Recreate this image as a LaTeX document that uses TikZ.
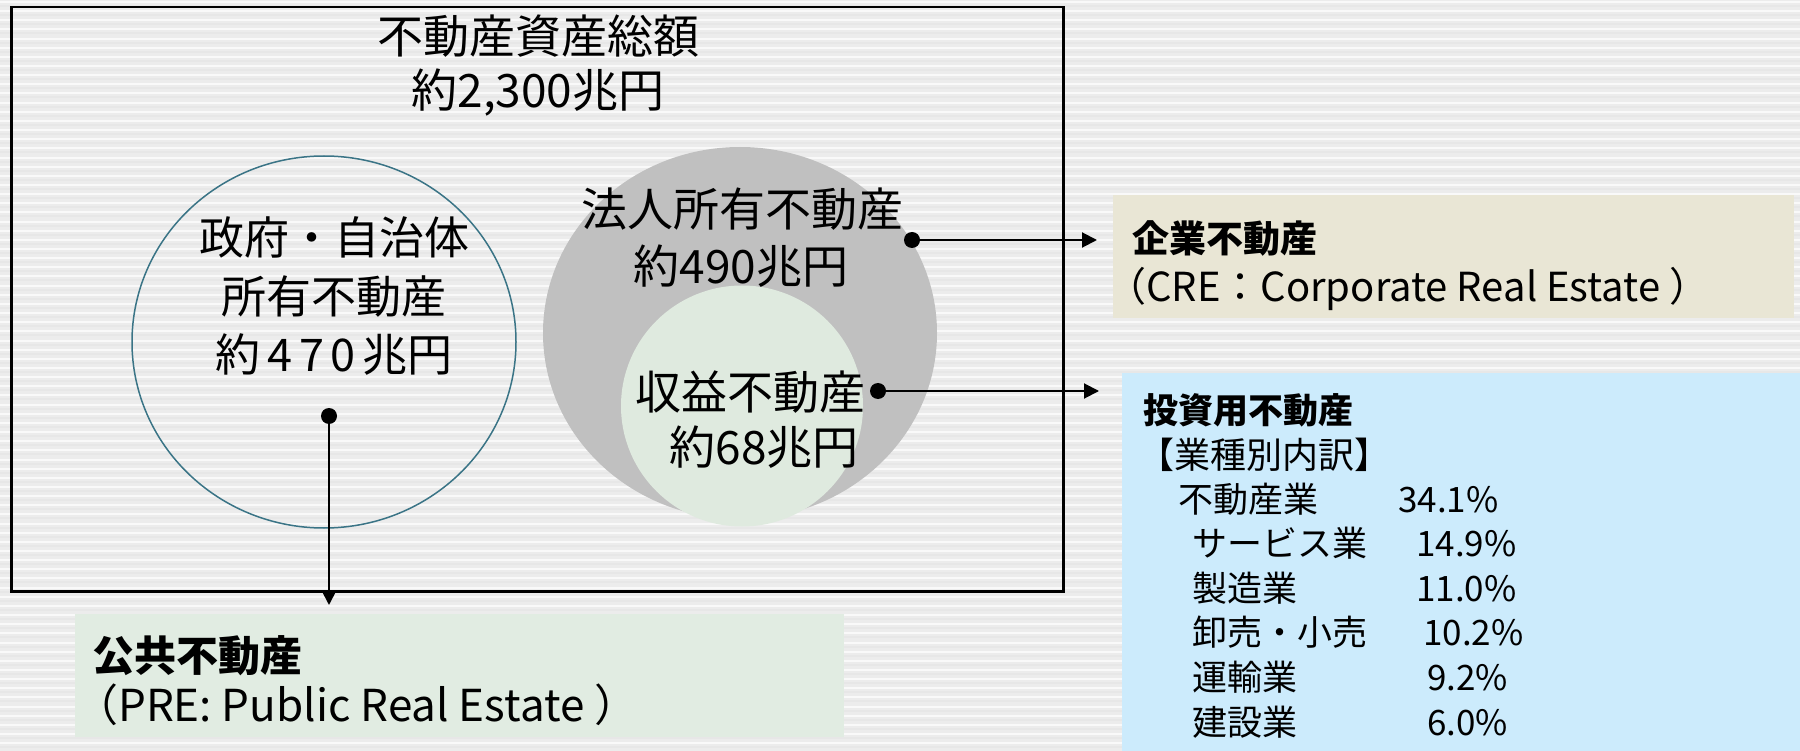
\documentclass[tikz,border=0pt]{standalone}
\usepackage{fontspec}
\setmainfont{Noto Sans CJK JP}
\usetikzlibrary{shapes.geometric,arrows.meta}
\definecolor{bgbase}{HTML}{ECECEC}
\definecolor{govline}{HTML}{3A7486}
\definecolor{corpfill}{HTML}{C0C0C0}
\definecolor{incfill}{HTML}{DFEADF}
\definecolor{crefill}{HTML}{E9E6D5}
\definecolor{prefill}{HTML}{E1ECE2}
\definecolor{invfill}{HTML}{CCEBFC}
\tikzset{
  jtxt/.style={inner sep=0pt, font=\fontsize{#1}{#1}\selectfont, text height=0.83*#1pt, text depth=0.07*#1pt},
  jbold/.style={jtxt=#1, font=\fontsize{#1}{#1}\selectfont\bfseries},
  dotnode/.style={circle, fill=black, inner sep=0pt, minimum size=16pt},
  conn/.style={line width=2pt, -{Triangle[length=15pt,width=15pt]}},
  panel/.style={inner sep=0pt, anchor=north west},
}
\begin{document}
\begin{tikzpicture}[x=1pt,y=-1pt]
\useasboundingbox (0,0) rectangle (1800,751);
% background stripes
\fill[bgbase] (0,0) rectangle (1800,751);
\foreach \i in {0,...,82} {
  \fill[white,opacity=0.7] (0,{\i*9.15+1}) rectangle (1800,{\i*9.15+3});
  \fill[black,opacity=0.02] (0,{\i*9.15+5}) rectangle (1800,{\i*9.15+7});
}
% main frame
\node[panel, draw=black, line width=2.5pt, minimum width=1052pt, minimum height=584pt] (frame) at (10,6) {};
% title
\node[jtxt=46] (t1) at (538,36) {不動産資産総額};
\node[jtxt=46] (t2) at (538,90) {約2,300兆円};
% government circle
\node[ellipse, draw=govline, line width=1.5pt, minimum width=384pt, minimum height=372pt, inner sep=0pt] (gov) at (324,342) {};
\node[jtxt=45] (g1) at (334,237) {政府・自治体};
\node[jtxt=45] (g2) at (334,296) {所有不動産};
\node[jtxt=45] (g3) at (334,354) {約\kern7pt 4\kern7pt 7\kern7pt 0\kern7pt 兆円};
% corporate circles
\node[ellipse, fill=corpfill, minimum width=394pt, minimum height=372pt, inner sep=0pt] (corp) at (740,333) {};
\node[ellipse, fill=incfill, minimum width=242pt, minimum height=241pt, inner sep=0pt] (inc) at (742,406) {};
\node[jtxt=46] (c1) at (742,209) {法人所有不動産};
\node[jtxt=46] (c2) at (741,266) {約490兆円};
\node[jtxt=46] (c3) at (750,392) {収益不動産};
\node[jtxt=46] (c4) at (764,447) {約68兆円};
% boxes
\node[panel, fill=crefill, minimum width=681pt, minimum height=123pt] (cre) at (1113,195) {};
\node[jbold=37, anchor=west] (cre1) at (1132,238) {企業不動産};
\node[jtxt=40, anchor=west] (cre2) at (1106,286) {（CRE：Corporate Real Estate ）};
\node[panel, fill=prefill, minimum width=769pt, minimum height=123pt] (pre) at (75,614) {};
\node[jbold=42, anchor=west] (pre1) at (92,656) {公共不動産};
\node[jtxt=44, anchor=west] (pre2) at (74,705) {（PRE: Public Real Estate ）};
\node[panel, fill=invfill, minimum width=678pt, minimum height=378pt] (inv) at (1122,373) {};
\node[jbold=35, anchor=west] (inv1) at (1143,410) {投資用不動産};
\node[jtxt=36, anchor=west] (inv2) at (1138,455) {【業種別内訳】};
\node[jtxt=35, anchor=west] (r1a) at (1178,499) {不動産業};
\node[jtxt=35, anchor=west] (r1b) at (1398,499) {34.1\%};
\node[jtxt=35, anchor=west] (r2a) at (1192,543) {サービス業};
\node[jtxt=35, anchor=west] (r2b) at (1416,543) {14.9\%};
\node[jtxt=35, anchor=west] (r3a) at (1192,588) {製造業};
\node[jtxt=35, anchor=west] (r3b) at (1416,588) {11.0\%};
\node[jtxt=35, anchor=west] (r4a) at (1192,632) {卸売・小売};
\node[jtxt=35, anchor=west] (r4b) at (1423,632) {10.2\%};
\node[jtxt=35, anchor=west] (r5a) at (1192,677) {運輸業};
\node[jtxt=35, anchor=west] (r5b) at (1427,677) {9.2\%};
\node[jtxt=35, anchor=west] (r6a) at (1192,722) {建設業};
\node[jtxt=35, anchor=west] (r6b) at (1427,722) {6.0\%};
% connectors
\node[dotnode] (d1) at (912,240) {};
\node[dotnode] (d2) at (878,391) {};
\node[dotnode] (d3) at (329,416) {};
\coordinate (e1) at (1097,240);
\coordinate (e2) at (1099,391);
\coordinate (e3) at (329,605);
\draw[conn] (d1.center) -- (e1);
\draw[conn] (d2.center) -- (e2);
\draw[conn] (d3.center) -- (e3);
\end{tikzpicture}
\end{document}
